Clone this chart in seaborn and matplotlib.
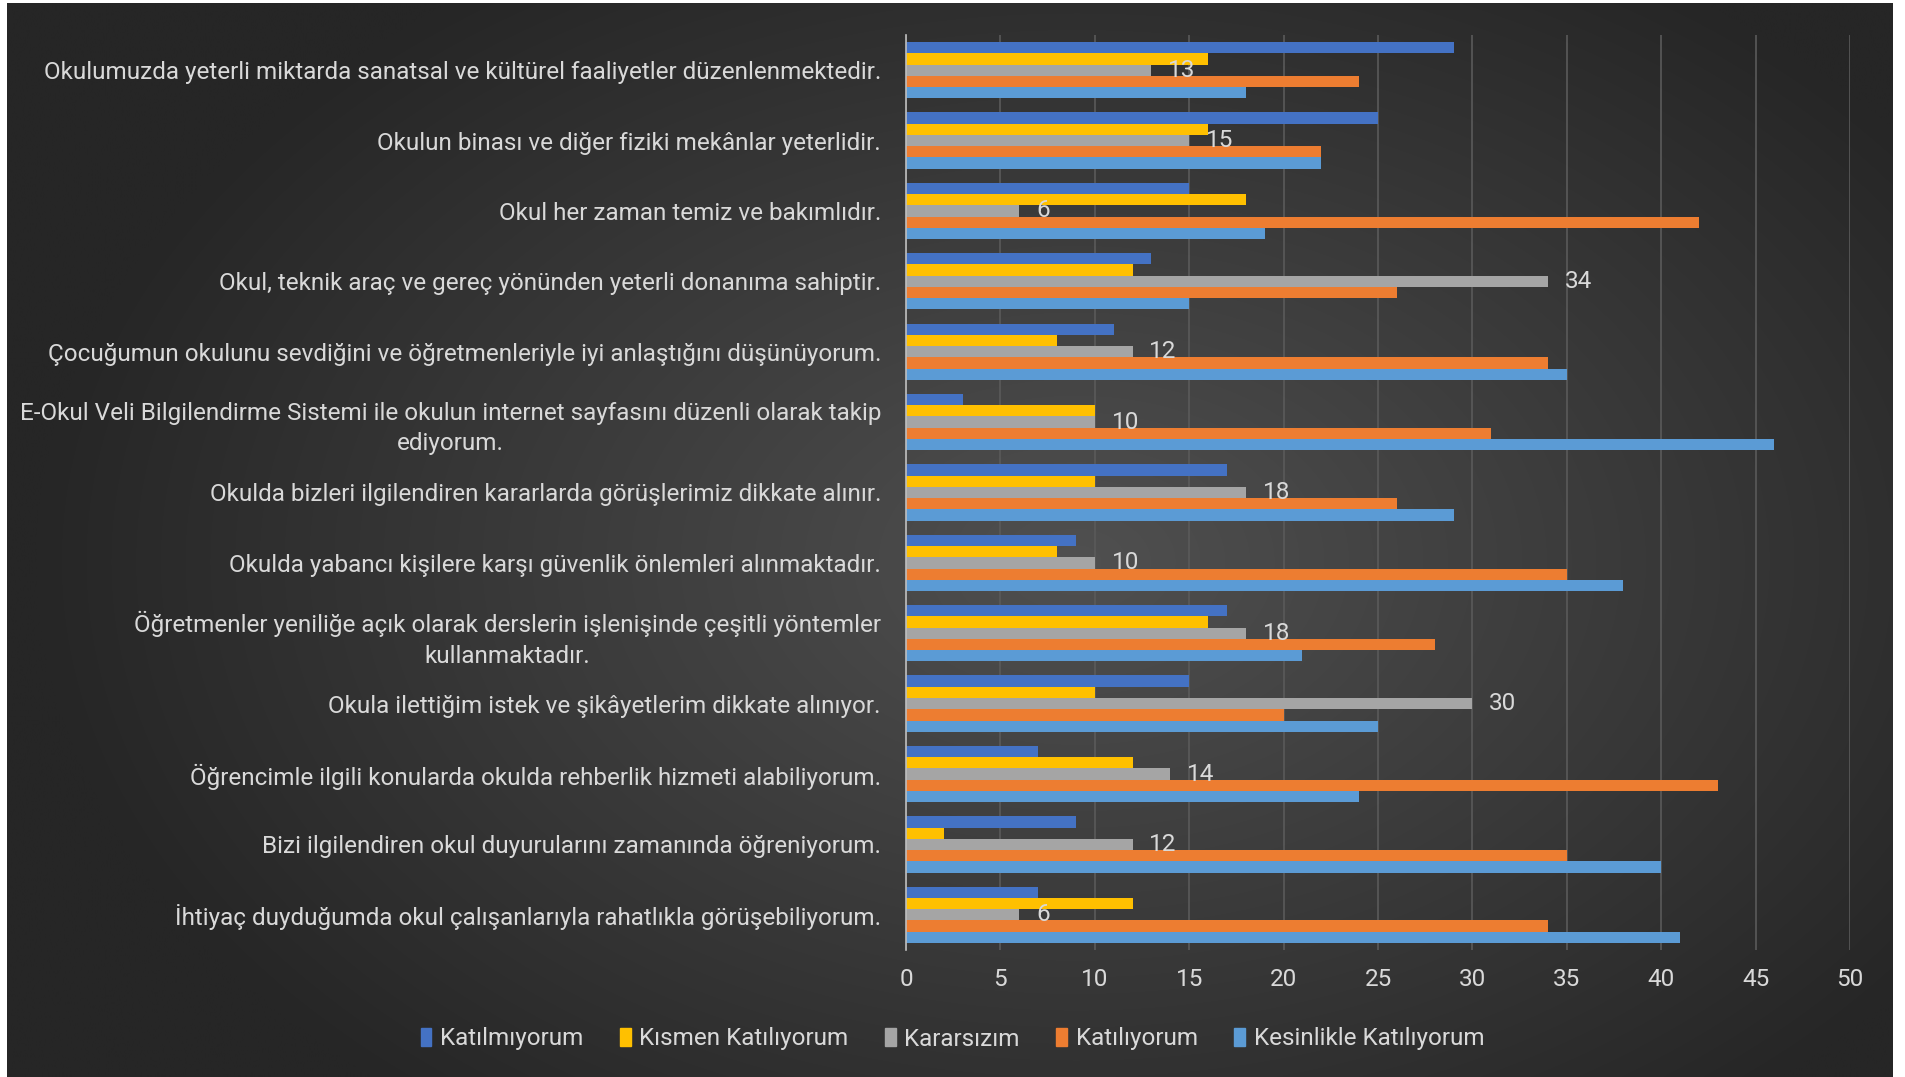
import numpy as np
import pandas as pd
import matplotlib.pyplot as plt
import seaborn as sns
from matplotlib.patches import Patch

plt.rcParams['font.family'] = ['Roboto', 'DejaVu Sans']

# anket maddeleri (yukaridan asagiya)
maddeler = [
    "Okulumuzda yeterli miktarda sanatsal ve kültürel faaliyetler düzenlenmektedir.",
    "Okulun binası ve diğer fiziki mekânlar yeterlidir.",
    "Okul her zaman temiz ve bakımlıdır.",
    "Okul, teknik araç ve gereç yönünden yeterli donanıma sahiptir.",
    "Çocuğumun okulunu sevdiğini ve öğretmenleriyle iyi anlaştığını düşünüyorum.",
    "E-Okul Veli Bilgilendirme Sistemi ile okulun internet sayfasını düzenli olarak takip\nediyorum.",
    "Okulda bizleri ilgilendiren kararlarda görüşlerimiz dikkate alınır.",
    "Okulda yabancı kişilere karşı güvenlik önlemleri alınmaktadır.",
    "Öğretmenler yeniliğe açık olarak derslerin işlenişinde çeşitli yöntemler\nkullanmaktadır.",
    "Okula ilettiğim istek ve şikâyetlerim dikkate alınıyor.",
    "Öğrencimle ilgili konularda okulda rehberlik hizmeti alabiliyorum.",
    "Bizi ilgilendiren okul duyurularını zamanında öğreniyorum.",
    "İhtiyaç duyduğumda okul çalışanlarıyla rahatlıkla görüşebiliyorum.",
]

seriler = ["Katılmıyorum", "Kısmen Katılıyorum", "Kararsızım", "Katılıyorum", "Kesinlikle Katılıyorum"]

katilmiyorum = [29, 25, 15, 13, 11, 3, 17, 9, 17, 15, 7, 9, 7]
kismen = [16, 16, 18, 12, 8, 10, 10, 8, 16, 10, 12, 2, 12]
kararsizim = [13, 15, 6, 34, 12, 10, 18, 10, 18, 30, 14, 12, 6]
katiliyorum = [24, 22, 42, 26, 34, 31, 26, 35, 28, 20, 43, 35, 34]
kesinlikle = [18, 22, 19, 15, 35, 46, 29, 38, 21, 25, 24, 40, 41]

renkler = ["#4472C4", "#FFC000", "#A5A5A5", "#ED7D31", "#5B9BD5"]
yazi_rengi = "#d9d9d9"
fs = 17.5

# uzun formatli tablo
degerler = [katilmiyorum, kismen, kararsizim, katiliyorum, kesinlikle]
rows = []
for s, vals in zip(seriler, degerler):
    for m, v in zip(maddeler, vals):
        rows.append({"madde": m, "seri": s, "deger": v})
df = pd.DataFrame(rows)

W, H = 1905, 1077
fig = plt.figure(figsize=(W / 100, H / 100), dpi=100, facecolor="white")

# koyu gri radyal arka plan
bg = fig.add_axes([7 / W, 0, (W - 19) / W, (H - 3) / H], zorder=-10)
yy, xx = np.mgrid[0:H, 0:W]
d = np.sqrt(((xx - 1080) / 1050) ** 2 + ((yy - 560) / 700) ** 2)
d = np.clip(d, 0, 1)
acik = np.array([0x50, 0x50, 0x50]) / 255
koyu = np.array([0x26, 0x26, 0x26]) / 255
img = acik[None, None, :] * (1 - d[..., None]) + koyu[None, None, :] * d[..., None]
bg.imshow(img, aspect="auto")
bg.axis("off")

ax = fig.add_axes([906 / W, 1 - 950 / H, (1850 - 906) / W, (950 - 35) / H])
ax.set_facecolor("none")

sns.barplot(data=df, x="deger", y="madde", hue="seri", hue_order=seriler,
            order=maddeler, palette=renkler, orient="h", width=0.8,
            saturation=1, ax=ax)

ax.set_xlim(0, 50)
ax.set_xticks(range(0, 51, 5))
ax.xaxis.grid(True, color="#5a5a5a", linewidth=1.2)
ax.yaxis.grid(False)
ax.set_axisbelow(True)
for k in ["top", "right", "bottom"]:
    ax.spines[k].set_visible(False)
ax.spines["left"].set_color("#bfbfbf")
ax.spines["left"].set_linewidth(1.2)
ax.set_xlabel("")
ax.set_ylabel("")
ax.tick_params(axis="both", length=0, colors=yazi_rengi, labelsize=fs)
ax.tick_params(axis="x", pad=13)
ax.tick_params(axis="y", pad=18)
for t in ax.get_yticklabels():
    t.set_multialignment("center")
    t.set_linespacing(1.4)

# sadece Kararsızım serisinde veri etiketi
ax.bar_label(ax.containers[2], padding=12, color=yazi_rengi, fontsize=fs)

ax.get_legend().remove()
handles = [Patch(color=c, label=s) for c, s in zip(renkler, seriler)]
fig.legend(handles=handles, loc="center", bbox_to_anchor=(0.5, 38 / H),
           ncol=5, frameon=False, fontsize=fs, labelcolor=yazi_rengi,
           handlelength=0.45, handleheight=0.7, handletextpad=0.35,
           columnspacing=1.5)

fig.savefig("out.png", dpi=100, facecolor=fig.get_facecolor())
